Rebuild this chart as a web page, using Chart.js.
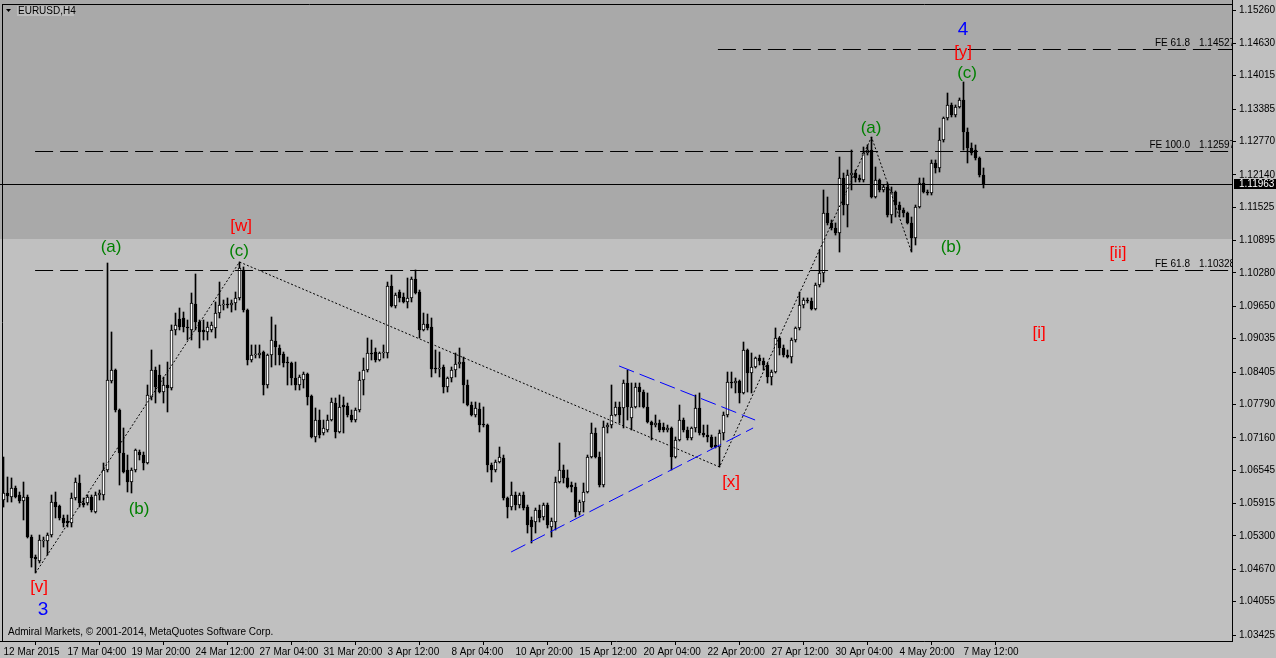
<!DOCTYPE html>
<html lang="en">
<head>
<meta charset="UTF-8">
<title>EURUSD,H4</title>
<script src="https://cdn.jsdelivr.net/npm/chart.js"></script>
<style>
  html, body { margin: 0; padding: 0; background: #c0c0c0; }
  canvas { display: block; }
</style>
</head>
<body>
<canvas id="chart" width="1276" height="658"></canvas>
<script>
// EURUSD H4 candles, 12 Mar 2015 12:00 .. 7 May 2015
const openP = [
  1.05981,1.06114,1.06038,1.06209,1.06076,1.05962,1.06038,1.05280,1.04902,1.04826,
  1.05205,1.05205,1.05318,1.05943,1.05867,1.05641,1.05584,1.05546,1.06020,1.06303,
  1.05924,1.05924,1.06038,1.05754,1.06076,1.06076,1.06550,1.08235,1.08443,1.07686,
  1.06871,1.06550,1.06322,1.06550,1.06890,1.06833,1.06682,1.07932,1.08443,1.08348,
  1.08026,1.08159,1.08102,1.09201,1.09409,1.09428,1.09258,1.09201,1.09693,1.09352,
  1.09201,1.09163,1.09201,1.09239,1.09522,1.09674,1.09693,1.09674,1.09712,1.09807,
  1.10337,1.09579,1.08632,1.08727,1.08727,1.08784,1.08159,1.08727,1.08992,1.08860,
  1.08746,1.08594,1.08575,1.08292,1.08159,1.08254,1.08367,1.07951,1.07175,1.07496,
  1.07250,1.07307,1.07496,1.07818,1.07269,1.07780,1.07762,1.07591,1.07496,1.07686,
  1.08254,1.08443,1.08765,1.08784,1.08632,1.08765,1.08765,1.10034,1.09655,1.09920,
  1.09826,1.09731,1.09807,1.10166,1.09920,1.09201,1.09314,1.09258,1.08481,1.08462,
  1.08500,1.08121,1.08292,1.08443,1.08556,1.08594,1.08159,1.07780,1.07591,1.07705,
  1.07420,1.07401,1.06644,1.06550,1.06701,1.06777,1.06020,1.05848,1.06076,1.05886,
  1.06076,1.05848,1.05603,1.05565,1.05792,1.05660,1.05886,1.05470,1.05565,1.06322,
  1.06550,1.06399,1.06265,1.06228,1.05754,1.05943,1.06133,1.06796,1.07250,1.06796,
  1.06265,1.07364,1.07401,1.07591,1.07743,1.07724,1.08197,1.07534,1.07743,1.08121,
  1.08026,1.07743,1.07458,1.07401,1.07439,1.07364,1.07307,1.07345,1.06796,1.07118,
  1.07496,1.07307,1.07156,1.07345,1.07724,1.07250,1.07212,1.07175,1.07023,1.06985,
  1.07250,1.07591,1.08216,1.08197,1.08235,1.08008,1.08822,1.08386,1.08500,1.08670,
  1.08613,1.08538,1.08311,1.08405,1.09049,1.08860,1.08727,1.08689,1.09011,1.09239,
  1.09674,1.09769,1.09750,1.09598,1.10052,1.10280,1.11416,1.11227,1.11132,1.11037,
  1.12079,1.11567,1.12136,1.12173,1.12079,1.12041,1.12552,1.12609,1.11719,1.12041,
  1.11852,1.11909,1.11378,1.11814,1.11567,1.11473,1.11416,1.11227,1.10943,1.11530,
  1.11984,1.11814,1.11795,1.12363,1.12268,1.12798,1.13215,1.13461,1.13272,1.13423,
  1.13556,1.12950,1.12647,1.12609,1.12458,1.12136
];
const highP = [
  1.06795,1.06417,1.06399,1.06246,1.06133,1.06322,1.06076,1.05318,1.04940,1.05318,
  1.05280,1.05357,1.06076,1.06133,1.05886,1.05697,1.05697,1.06114,1.06399,1.06455,
  1.06020,1.06076,1.06076,1.06133,1.06171,1.06682,1.10469,1.09163,1.08462,1.07705,
  1.07345,1.06833,1.06588,1.06947,1.06928,1.06890,1.08159,1.08822,1.08500,1.08538,
  1.08311,1.08594,1.09296,1.09522,1.09617,1.09541,1.09390,1.09901,1.10261,1.09390,
  1.09390,1.09352,1.09352,1.09731,1.10109,1.09769,1.09807,1.09769,1.09920,1.10488,
  1.10394,1.09598,1.08917,1.08917,1.08917,1.08803,1.08746,1.09447,1.09296,1.08917,
  1.08784,1.08689,1.08594,1.08594,1.08348,1.08405,1.08386,1.07970,1.07724,1.07686,
  1.07496,1.07591,1.07913,1.07913,1.07970,1.07932,1.07818,1.07686,1.07724,1.08405,
  1.08670,1.09049,1.09011,1.08860,1.08784,1.08917,1.10109,1.10242,1.09901,1.09958,
  1.09901,1.10185,1.10204,1.10337,1.09958,1.09522,1.09503,1.09428,1.08822,1.08784,
  1.08538,1.08311,1.08500,1.08765,1.08860,1.08689,1.08254,1.07837,1.07837,1.07818,
  1.07743,1.07420,1.06682,1.06739,1.06985,1.06833,1.06038,1.06322,1.06133,1.06114,
  1.06133,1.05886,1.05660,1.05830,1.05886,1.05924,1.05924,1.05641,1.06417,1.07061,
  1.06644,1.06550,1.06322,1.06303,1.05981,1.06303,1.06833,1.07439,1.07345,1.06890,
  1.07477,1.07439,1.08159,1.07837,1.07837,1.08254,1.08443,1.08197,1.08197,1.08197,
  1.08064,1.08008,1.07477,1.07591,1.07496,1.07439,1.07401,1.07364,1.07175,1.07780,
  1.07534,1.07364,1.07364,1.07970,1.08008,1.07401,1.07401,1.07212,1.07175,1.07307,
  1.07648,1.08405,1.08405,1.08292,1.08254,1.08973,1.08841,1.08765,1.08689,1.08727,
  1.08670,1.08575,1.08443,1.09239,1.09068,1.08917,1.08822,1.09049,1.09258,1.09920,
  1.09807,1.09807,1.09807,1.10090,1.10715,1.11852,1.11719,1.11284,1.11227,1.12477,
  1.12173,1.12230,1.12609,1.12230,1.12136,1.12666,1.12704,1.12855,1.12287,1.12060,
  1.11946,1.11984,1.11909,1.11833,1.11624,1.11511,1.11435,1.11340,1.11567,1.12079,
  1.12079,1.11852,1.12420,1.12420,1.13026,1.13234,1.13688,1.13499,1.13461,1.13594,
  1.13897,1.13026,1.12742,1.12704,1.12477,1.12268
];
const lowP = [
  1.05848,1.05943,1.05943,1.06020,1.05924,1.05603,1.05262,1.04712,1.04599,1.04788,
  1.05091,1.04940,1.05280,1.05641,1.05603,1.05470,1.05470,1.05470,1.05981,1.05848,
  1.05848,1.05886,1.05754,1.05735,1.05981,1.05981,1.06512,1.08197,1.07648,1.06265,
  1.06493,1.06133,1.06114,1.06512,1.06739,1.06550,1.06663,1.07875,1.07818,1.08008,
  1.07818,1.07648,1.08064,1.09106,1.09201,1.09163,1.09011,1.09011,1.09201,1.08860,
  1.09011,1.09011,1.09163,1.09049,1.09428,1.09579,1.09617,1.09541,1.09579,1.09769,
  1.09541,1.08538,1.08594,1.08670,1.08670,1.07970,1.08102,1.08500,1.08538,1.08538,
  1.08500,1.08159,1.08159,1.08064,1.08064,1.08102,1.07780,1.07156,1.07080,1.07156,
  1.07212,1.07269,1.07477,1.07156,1.07250,1.07250,1.07553,1.07458,1.07458,1.07648,
  1.07970,1.08405,1.08632,1.08594,1.08613,1.08670,1.08670,1.09636,1.09617,1.09731,
  1.09712,1.09617,1.09731,1.09882,1.09049,1.09182,1.09201,1.08311,1.08386,1.08311,
  1.08008,1.08026,1.08216,1.08311,1.08481,1.07818,1.07762,1.07572,1.07553,1.07269,
  1.07364,1.06512,1.06322,1.06512,1.06682,1.05981,1.05641,1.05792,1.05792,1.05830,
  1.05792,1.05356,1.05167,1.05356,1.05565,1.05603,1.05451,1.05280,1.05413,1.06303,
  1.06303,1.06209,1.06133,1.05660,1.05697,1.05754,1.06114,1.06777,1.06777,1.06228,
  1.06228,1.07250,1.07345,1.07572,1.07439,1.07345,1.07496,1.07307,1.07724,1.07743,
  1.07724,1.07439,1.07118,1.07364,1.07269,1.07269,1.07269,1.06550,1.06777,1.07099,
  1.07269,1.07118,1.07118,1.07269,1.07212,1.07175,1.07080,1.06966,1.06966,1.06607,
  1.07118,1.07553,1.08102,1.08008,1.07818,1.07989,1.08026,1.08008,1.08481,1.08538,
  1.08443,1.08197,1.08159,1.08386,1.08727,1.08689,1.08670,1.08575,1.08973,1.09201,
  1.09617,1.09712,1.09579,1.09579,1.10015,1.10109,1.11189,1.11094,1.10999,1.10677,
  1.11378,1.11151,1.11852,1.12003,1.12003,1.12003,1.12514,1.11700,1.11700,1.11814,
  1.11814,1.11340,1.11227,1.11340,1.11340,1.11340,1.11208,1.10677,1.10810,1.11511,
  1.11795,1.11757,1.11757,1.12173,1.12192,1.12760,1.13177,1.13234,1.13234,1.13404,
  1.12609,1.12363,1.12514,1.12420,1.12098,1.11890
];
const closeP = [
  1.06114,1.06057,1.06209,1.06038,1.05962,1.06038,1.05280,1.04884,1.04865,1.05224,
  1.05224,1.05318,1.05943,1.05848,1.05641,1.05546,1.05546,1.06020,1.06322,1.05924,
  1.05886,1.06038,1.05792,1.06076,1.06114,1.06550,1.08254,1.08443,1.07686,1.06871,
  1.06512,1.06322,1.06550,1.06928,1.06833,1.06682,1.07970,1.08443,1.08121,1.08026,
  1.08159,1.08102,1.09201,1.09296,1.09258,1.09258,1.09239,1.09712,1.09352,1.09163,
  1.09163,1.09258,1.09296,1.09522,1.09674,1.09693,1.09674,1.09712,1.09807,1.10375,
  1.09579,1.08632,1.08727,1.08746,1.08765,1.08159,1.08727,1.09011,1.08879,1.08727,
  1.08575,1.08575,1.08292,1.08159,1.08311,1.08367,1.07932,1.07175,1.07496,1.07212,
  1.07345,1.07496,1.07837,1.07269,1.07743,1.07743,1.07591,1.07496,1.07686,1.08254,
  1.08443,1.08765,1.08746,1.08632,1.08765,1.08784,1.10034,1.09655,1.09864,1.09807,
  1.09731,1.09807,1.10166,1.09901,1.09201,1.09314,1.09239,1.08462,1.08462,1.08481,
  1.08121,1.08292,1.08443,1.08556,1.08594,1.08159,1.07780,1.07591,1.07724,1.07401,
  1.07401,1.06644,1.06550,1.06701,1.06796,1.06020,1.05848,1.06076,1.05886,1.06076,
  1.05830,1.05508,1.05470,1.05792,1.05641,1.05886,1.05508,1.05584,1.06322,1.06550,
  1.06399,1.06228,1.06228,1.05754,1.05943,1.06133,1.06796,1.07250,1.06796,1.06265,
  1.07364,1.07401,1.07591,1.07743,1.07591,1.08197,1.07743,1.07743,1.08121,1.08026,
  1.07743,1.07458,1.07401,1.07439,1.07307,1.07307,1.07345,1.06796,1.07118,1.07496,
  1.07307,1.07156,1.07345,1.07724,1.07250,1.07212,1.07175,1.06985,1.06985,1.07250,
  1.07591,1.08216,1.08197,1.08235,1.08008,1.08822,1.08386,1.08500,1.08670,1.08613,
  1.08538,1.08311,1.08405,1.09049,1.08860,1.08727,1.08689,1.09011,1.09239,1.09674,
  1.09769,1.09750,1.09598,1.10052,1.10280,1.11416,1.11227,1.11132,1.11037,1.12079,
  1.11567,1.12136,1.12173,1.12079,1.12041,1.12552,1.12609,1.11719,1.12041,1.11852,
  1.11909,1.11378,1.11814,1.11567,1.11473,1.11416,1.11227,1.10943,1.11530,1.11984,
  1.11814,1.11795,1.12363,1.12268,1.12798,1.13215,1.13461,1.13272,1.13423,1.13556,
  1.12950,1.12647,1.12552,1.12458,1.12136,1.11963
];

// axis labels
const priceTicks = [1.15260,1.14630,1.14015,1.13385,1.12770,1.12140,1.11525,1.10895,1.10280,1.09650,
                    1.09035,1.08405,1.07790,1.07160,1.06545,1.05915,1.05300,1.04670,1.04055,1.03425];
const tickBars = [0,16,32,48,64,80,96,112,128,144,160,176,192,208,224,240];
const dateLabels = ['12 Mar 2015','17 Mar 04:00','19 Mar 20:00','24 Mar 12:00','27 Mar 04:00','31 Mar 20:00',
                    '3 Apr 12:00','8 Apr 04:00','10 Apr 20:00','15 Apr 12:00','20 Apr 04:00','22 Apr 20:00',
                    '27 Apr 12:00','30 Apr 04:00','4 May 20:00','7 May 12:00'];

// fibo expansion levels
const feLevels = [1.14527, 1.12597, 1.10328];
const feNames = ['FE 61.8', 'FE 100.0', 'FE 61.8'];
const feStartBar = [178.6, 7.9, 7.9];

// wave path (bar index + which extreme)
const waveBars = [8, 59, 179, 217, 227];
const waveSide = ['low', 'high', 'low', 'high', 'low'];

// blue triangle lines: [bar, price] endpoints
const triLower = [[126.9, 1.04997], [187.4, 1.07345]];
const triUpper = [[153.9, 1.08519], [187.9, 1.07496]];

// wave labels
const labelText = ['[v]', '3', '(a)', '(b)', '(c)', '[w]', '[x]', '(a)', '(b)', '(c)', '[y]', '4', '[ii]', '[i]'];
const labelBar = [8.9, 9.9, 26.9, 33.9, 58.9, 59.4, 181.9, 216.9, 236.9, 240.9, 239.9, 239.9, 278.6, 258.9];
const labelPrice = [1.04334, 1.03898, 1.10772, 1.05811, 1.10697, 1.11170, 1.06322, 1.13026, 1.10772, 1.14067, 1.14465, 1.14881, 1.10659, 1.09144];
const labelColor = ['#ff0000', '#0000ff', '#008000', '#008000', '#008000', '#ff0000', '#ff0000', '#008000', '#008000', '#008000', '#ff0000', '#0000ff', '#ff0000', '#ff0000'];

const zoneLow = 1.10924;   // lower edge of the dark zone
const lastPrice = closeP[closeP.length - 1];
const FONT = "'Liberation Sans', Arial, sans-serif";

Chart.defaults.font.family = FONT;

const bgPlugin = {
  id: 'bg',
  beforeDraw(chart) {
    const { ctx, chartArea: a, scales: { y } } = chart;
    ctx.save();
    ctx.fillStyle = '#c0c0c0';
    ctx.fillRect(0, 0, chart.width, chart.height);
    ctx.fillStyle = '#a9a9a9';
    const yb = Math.round(y.getPixelForValue(zoneLow));
    ctx.fillRect(a.left, a.top, a.right - a.left, yb - a.top);
    ctx.restore();
  }
};

const overlayPlugin = {
  id: 'overlay',
  afterDatasetsDraw(chart) {
    const { ctx, chartArea: a, scales: { x, y } } = chart;
    const px = v => x.getPixelForValue(v);
    const py = v => y.getPixelForValue(v);
    ctx.save();
    ctx.beginPath();
    ctx.rect(a.left, a.top, a.right - a.left, a.bottom - a.top);
    ctx.clip();

    // FE levels
    ctx.lineWidth = 1;
    ctx.strokeStyle = '#000';
    ctx.fillStyle = '#000';
    ctx.font = '10px ' + FONT;
    ctx.textBaseline = 'bottom';
    feLevels.forEach((lv, k) => {
      const yy = Math.round(py(lv)) + 0.5;
      ctx.setLineDash([18, 7]);
      ctx.beginPath();
      ctx.moveTo(px(feStartBar[k]), yy);
      ctx.lineTo(a.right, yy);
      ctx.stroke();
      ctx.setLineDash([]);
      ctx.textAlign = 'right';
      ctx.fillText(feNames[k], a.right - 42, yy - 1);
      ctx.textAlign = 'left';
      ctx.fillText(lv.toFixed(5), a.right - 33, yy - 1);
    });

    // current price line
    const yc = Math.round(py(lastPrice)) + 0.5;
    ctx.beginPath();
    ctx.moveTo(a.left, yc);
    ctx.lineTo(a.right, yc);
    ctx.stroke();

    // wave path (dotted)
    ctx.setLineDash([2, 2]);
    ctx.beginPath();
    waveBars.forEach((b, k) => {
      const v = waveSide[k] === 'low' ? lowP[b] : highP[b];
      const xx = px(b), yy = py(v);
      if (k === 0) ctx.moveTo(xx, yy); else ctx.lineTo(xx, yy);
    });
    ctx.stroke();

    // triangle lines (blue dashed)
    ctx.strokeStyle = '#0000ff';
    ctx.setLineDash([16, 6]);
    [triLower, triUpper].forEach(seg => {
      ctx.beginPath();
      ctx.moveTo(px(seg[0][0]), py(seg[0][1]));
      ctx.lineTo(px(seg[1][0]), py(seg[1][1]));
      ctx.stroke();
    });
    ctx.setLineDash([]);

    // wave labels
    ctx.textAlign = 'center';
    ctx.textBaseline = 'middle';
    labelText.forEach((t, k) => {
      const big = (t === '3' || t === '4');
      ctx.font = (big ? '19px ' : '17px ') + FONT;
      ctx.fillStyle = labelColor[k];
      ctx.fillText(t, px(labelBar[k]), py(labelPrice[k]));
    });
    ctx.restore();

    // frame + header + copyright
    ctx.save();
    ctx.strokeStyle = '#000';
    ctx.lineWidth = 1;
    ctx.beginPath();
    ctx.moveTo(2, 4.5); ctx.lineTo(a.right, 4.5);
    ctx.moveTo(2.5, 4); ctx.lineTo(2.5, a.bottom);
    ctx.stroke();

    ctx.fillStyle = '#bdbdbd';
    ctx.fillRect(17, 6, 57, 10);
    ctx.fillStyle = '#000';
    ctx.beginPath();
    ctx.moveTo(6, 9); ctx.lineTo(11, 9); ctx.lineTo(8.5, 12); ctx.closePath();
    ctx.fill();
    ctx.font = '10px ' + FONT;
    ctx.textAlign = 'left';
    ctx.textBaseline = 'middle';
    ctx.fillText('EURUSD,H4', 18, 11);
    ctx.fillText('Admiral Markets, \u00a9 2001-2014, MetaQuotes Software Corp.', 8, 632);
    ctx.restore();
  },
  afterDraw(chart) {
    const { ctx, chartArea: a, scales: { y } } = chart;
    const yc = Math.round(y.getPixelForValue(lastPrice));
    ctx.save();
    ctx.fillStyle = '#000';
    ctx.fillRect(a.right + 2, yc - 5, chart.width - a.right - 2, 10);
    ctx.fillStyle = '#fff';
    ctx.font = '10px ' + FONT;
    ctx.textAlign = 'left';
    ctx.textBaseline = 'middle';
    ctx.fillText(lastPrice.toFixed(5), a.right + 7, yc);
    ctx.restore();
  }
};

const bars = openP.map((o, i) => i);

new Chart(document.getElementById('chart').getContext('2d'), {
  type: 'bar',
  data: {
    datasets: [
      {
        label: 'wick',
        data: bars.map(i => ({ x: i, y: [lowP[i], highP[i]] })),
        backgroundColor: '#000',
        borderWidth: 0,
        barThickness: 1,
        grouped: false,
        order: 2
      },
      {
        label: 'body',
        data: bars.map(i => ({ x: i, y: [openP[i], closeP[i]] })),
        backgroundColor: bars.map(i => closeP[i] > openP[i] ? '#ffffff' : '#000000'),
        borderColor: '#000',
        borderWidth: 1,
        borderSkipped: false,
        barThickness: 3,
        grouped: false,
        order: 1
      }
    ]
  },
  options: {
    responsive: false,
    animation: false,
    devicePixelRatio: 1,
    layout: { padding: 0 },
    plugins: { legend: { display: false }, tooltip: { enabled: false } },
    scales: {
      x: {
        type: 'linear',
        min: -0.875,
        max: 307.125,
        offset: false,
        grid: { drawOnChartArea: false, drawTicks: true, tickLength: 4, color: '#000' },
        border: { color: '#000' },
        ticks: {
          align: 'start', maxRotation: 0, autoSkip: false, padding: 1,
          color: '#000', font: { size: 10 },
          callback: (v, i) => dateLabels[i]
        },
        afterBuildTicks: s => { s.ticks = tickBars.map(v => ({ value: v })); },
        afterFit: s => { s.height = 17; s.paddingLeft = 0; s.paddingRight = 0; }
      },
      y: {
        type: 'linear',
        position: 'right',
        min: 1.033114,
        max: 1.154494,
        grid: { drawOnChartArea: false, drawTicks: true, tickLength: 4, color: '#000' },
        border: { color: '#000' },
        ticks: {
          padding: 3, color: '#000', font: { size: 10 },
          callback: v => v.toFixed(5)
        },
        afterBuildTicks: s => { s.ticks = priceTicks.map(v => ({ value: v })); },
        afterFit: s => { s.width = 44; s.paddingTop = 0; s.paddingBottom = 0; }
      }
    }
  },
  plugins: [bgPlugin, overlayPlugin]
});
</script>
</body>
</html>
